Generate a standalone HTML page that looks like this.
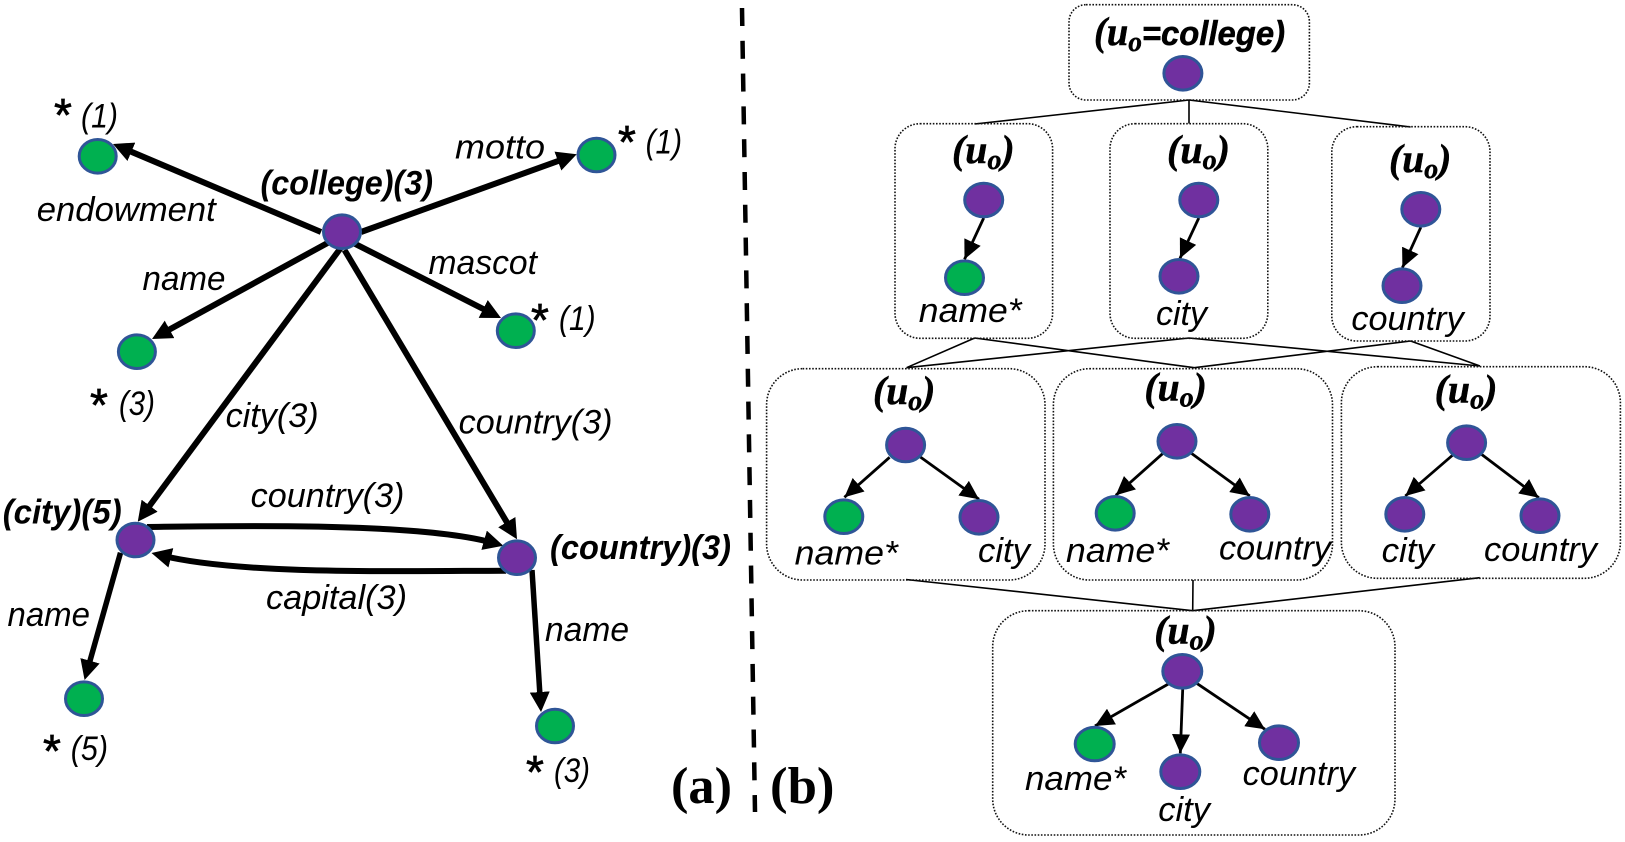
<!DOCTYPE html>
<html>
<head>
<meta charset="utf-8">
<style>
html,body{margin:0;padding:0;background:#fff;}
svg{display:block;}
.t{font:italic 34px "Liberation Sans",sans-serif;fill:#000;transform:translateY(1.8px);}
.b{font:italic bold 34px "Liberation Sans",sans-serif;fill:#000;transform:translateY(1.8px);}
.s{font:normal 46px "Liberation Sans",sans-serif;fill:#000;stroke:#000;stroke-width:.7;}
.u{font:italic bold 40px "Liberation Serif",serif;fill:#000;stroke:#000;stroke-width:.5;}
.l{font:bold 52px "Liberation Serif",serif;fill:#000;}
.box{fill:none;stroke:#111;stroke-width:1.6;stroke-dasharray:1.6 1.6;}
.c{stroke:#000;stroke-width:1.6;fill:none;}
.th{stroke:#000;stroke-width:6;fill:none;marker-end:url(#big);}
.tn{stroke:#000;stroke-width:2.8;fill:none;marker-end:url(#small);}
.p{fill:#7030A0;stroke:#2F5597;stroke-width:3;}
.g{fill:#00B050;stroke:#2F5597;stroke-width:3;}
</style>
</head>
<body>
<svg xmlns="http://www.w3.org/2000/svg" width="1625" height="842" viewBox="0 0 1625 842">
<defs>
<marker id="big" markerUnits="userSpaceOnUse" markerWidth="20" markerHeight="20" refX="10" refY="10" orient="auto"><path d="M0,0 L20,10 L0,20 z" fill="#000"/></marker>
<marker id="small" markerUnits="userSpaceOnUse" markerWidth="19" markerHeight="18" refX="19" refY="9" orient="auto"><path d="M0,0 L19,9 L0,18 z" fill="#000"/></marker>
</defs>

<!-- divider -->
<line x1="742" y1="8" x2="755" y2="812" stroke="#000" stroke-width="4.5" stroke-dasharray="18 14.8"/>

<!-- panel a edges -->
<line class="th" x1="321" y1="232" x2="122.2" y2="147.9"/>
<line class="th" x1="361" y1="232" x2="567.3" y2="157.7"/>
<line class="th" x1="328" y1="242.7" x2="160.8" y2="334.2"/>
<line class="th" x1="354" y1="243.3" x2="492.1" y2="313.5"/>
<line class="th" x1="340.7" y1="248" x2="143.7" y2="513.7"/>
<line class="th" x1="344.5" y1="250" x2="511.9" y2="530.7"/>
<path class="th" d="M147,527 C230,526 420,522 493.7,543"/>
<line x1="493" y1="530" x2="504" y2="542" stroke="#fff" stroke-width="2.5"/>
<path class="th" d="M506,570.7 C400,571 240,575 161.2,555.4"/>
<line class="th" style="stroke-width:5.5" x1="120.5" y1="552.7" x2="87.3" y2="670.4"/>
<line class="th" style="stroke-width:5.5" x1="532" y1="570" x2="540.4" y2="702"/>

<!-- panel a nodes -->
<ellipse class="g" cx="97.7" cy="156.3" rx="18.5" ry="16.8"/>
<ellipse class="g" cx="596.5" cy="155" rx="18.5" ry="16.8"/>
<ellipse class="p" cx="342" cy="231.7" rx="18.5" ry="16.8"/>
<ellipse class="g" cx="136.9" cy="351.7" rx="18.5" ry="16.8"/>
<ellipse class="g" cx="515.8" cy="330.7" rx="18.5" ry="16.8"/>
<ellipse class="p" cx="135.5" cy="540" rx="18.5" ry="16.8"/>
<ellipse class="p" cx="517" cy="557.7" rx="18.5" ry="16.8"/>
<ellipse class="g" cx="84" cy="698.7" rx="18.5" ry="16.8"/>
<ellipse class="g" cx="555" cy="726" rx="18.5" ry="16.8"/>

<!-- panel a labels -->
<text class="s" x="54" y="131">*</text>
<text class="t" x="81" y="125.7" textLength="37" lengthAdjust="spacingAndGlyphs">(1)</text>
<text class="s" x="618" y="158">*</text>
<text class="t" x="645.6" y="151.7" textLength="36.4" lengthAdjust="spacingAndGlyphs">(1)</text>
<text class="s" x="531" y="336">*</text>
<text class="t" x="559" y="328" textLength="36.6" lengthAdjust="spacingAndGlyphs">(1)</text>
<text class="s" x="90" y="421">*</text>
<text class="t" x="119" y="413" textLength="36" lengthAdjust="spacingAndGlyphs">(3)</text>
<text class="s" x="43" y="767">*</text>
<text class="t" x="70.7" y="758" textLength="37.3" lengthAdjust="spacingAndGlyphs">(5)</text>
<text class="s" x="526" y="788">*</text>
<text class="t" x="554" y="780" textLength="36" lengthAdjust="spacingAndGlyphs">(3)</text>

<text class="t" x="36.8" y="219" textLength="179" lengthAdjust="spacingAndGlyphs">endowment</text>
<text class="t" x="455" y="156.7" textLength="90" lengthAdjust="spacingAndGlyphs">motto</text>
<text class="b" x="260.5" y="192.7" textLength="172.5" lengthAdjust="spacingAndGlyphs">(college)(3)</text>
<text class="t" x="142.5" y="288" textLength="83" lengthAdjust="spacingAndGlyphs">name</text>
<text class="t" x="428.5" y="272" textLength="108.5" lengthAdjust="spacingAndGlyphs">mascot</text>
<text class="t" x="225.6" y="425" textLength="93" lengthAdjust="spacingAndGlyphs">city(3)</text>
<text class="t" x="458.7" y="431.7" textLength="153.8" lengthAdjust="spacingAndGlyphs">country(3)</text>
<text class="b" x="2.7" y="521.7" textLength="119" lengthAdjust="spacingAndGlyphs">(city)(5)</text>
<text class="t" x="250.7" y="505" textLength="153.7" lengthAdjust="spacingAndGlyphs">country(3)</text>
<text class="b" x="550" y="557" textLength="181" lengthAdjust="spacingAndGlyphs">(country)(3)</text>
<text class="t" x="266" y="607" textLength="141" lengthAdjust="spacingAndGlyphs">capital(3)</text>
<text class="t" x="7.5" y="624" textLength="82.5" lengthAdjust="spacingAndGlyphs">name</text>
<text class="t" x="545" y="639" textLength="84" lengthAdjust="spacingAndGlyphs">name</text>
<text class="l" x="671" y="803" textLength="61" lengthAdjust="spacingAndGlyphs">(a)</text>
<text class="l" x="770" y="803" textLength="64.5" lengthAdjust="spacingAndGlyphs">(b)</text>

<!-- lattice connectors -->
<path class="c" d="M1189,100 L974.7,124 M1189,100 L1189,123.5 M1189,100 L1410.6,127"/>
<path class="c" d="M974.7,338 L906.5,367.7 M974.7,338 L1194.3,367.7 M1189,338 L906.5,367.7 M1189,338 L1480,366 M1410.6,341 L1194.3,367.7 M1410.6,341 L1480,366"/>
<path class="c" d="M906,579.5 L1192.7,610.7 M1193,580 L1192.7,610.7 M1479.8,577.7 L1192.7,610.7"/>

<!-- boxes -->
<rect class="box" x="1069" y="4.7" width="240.4" height="95.3" rx="17" ry="17"/>
<rect class="box" x="895" y="123.7" width="157.6" height="214.6" rx="25" ry="25"/>
<rect class="box" x="1110" y="123.7" width="157.8" height="214.6" rx="25" ry="25"/>
<rect class="box" x="1331.8" y="126.7" width="158.2" height="214.3" rx="25" ry="25"/>
<rect class="box" x="766.6" y="368.7" width="278.4" height="211.3" rx="36" ry="36"/>
<rect class="box" x="1053.4" y="368.7" width="279.1" height="211.3" rx="36" ry="36"/>
<rect class="box" x="1341.4" y="366.7" width="279" height="211.6" rx="36" ry="36"/>
<rect class="box" x="992.7" y="610.7" width="402.3" height="224.3" rx="36" ry="36"/>

<!-- lattice arrows -->
<line class="tn" x1="983.7" y1="218" x2="964.5" y2="259.3"/>
<line class="tn" x1="1198.8" y1="218" x2="1180" y2="258.3"/>
<line class="tn" x1="1420.8" y1="227.3" x2="1402.4" y2="267.7"/>
<line class="tn" x1="889.6" y1="457.3" x2="844.4" y2="497.3"/>
<line class="tn" x1="920" y1="456.7" x2="979" y2="499.3"/>
<line class="tn" x1="1163" y1="453.3" x2="1115.8" y2="495.3"/>
<line class="tn" x1="1191.3" y1="453.3" x2="1249.8" y2="496"/>
<line class="tn" x1="1452.8" y1="455" x2="1405.3" y2="496"/>
<line class="tn" x1="1481.4" y1="454.3" x2="1538.8" y2="497.7"/>
<line class="tn" x1="1168.3" y1="684" x2="1095" y2="726"/>
<line class="tn" x1="1182.7" y1="689.3" x2="1180.3" y2="753.3"/>
<line class="tn" x1="1196.7" y1="683.3" x2="1265" y2="729.3"/>

<!-- lattice nodes -->
<ellipse class="p" cx="1182.9" cy="73.3" rx="19" ry="16.8"/>
<ellipse class="p" cx="983.7" cy="200" rx="19" ry="16.8"/>
<ellipse class="g" cx="964.5" cy="277.7" rx="19" ry="16.8"/>
<ellipse class="p" cx="1198.8" cy="200" rx="19" ry="16.8"/>
<ellipse class="p" cx="1179" cy="276.3" rx="19" ry="16.8"/>
<ellipse class="p" cx="1420.8" cy="209.3" rx="19" ry="16.8"/>
<ellipse class="p" cx="1402" cy="285.7" rx="19" ry="16.8"/>
<ellipse class="p" cx="905.6" cy="445" rx="19" ry="16.8"/>
<ellipse class="g" cx="843.8" cy="516.7" rx="19" ry="16.8"/>
<ellipse class="p" cx="979" cy="517.3" rx="19" ry="16.8"/>
<ellipse class="p" cx="1177" cy="441.3" rx="19" ry="16.8"/>
<ellipse class="g" cx="1115.2" cy="513.3" rx="19" ry="16.8"/>
<ellipse class="p" cx="1249.8" cy="514.3" rx="19" ry="16.8"/>
<ellipse class="p" cx="1466.6" cy="442.7" rx="19" ry="16.8"/>
<ellipse class="p" cx="1404.8" cy="514.3" rx="19" ry="16.8"/>
<ellipse class="p" cx="1540" cy="515.7" rx="19" ry="16.8"/>
<ellipse class="p" cx="1182.3" cy="671.3" rx="19.5" ry="16.8"/>
<ellipse class="g" cx="1094.7" cy="744" rx="19.5" ry="16.8"/>
<ellipse class="p" cx="1180.3" cy="771.7" rx="19.5" ry="16.8"/>
<ellipse class="p" cx="1279" cy="742.7" rx="19.5" ry="16.8"/>

<!-- lattice labels -->
<text class="u" x="1094" y="45" textLength="191" lengthAdjust="spacingAndGlyphs">(u<tspan dy="6" font-size="28">o</tspan><tspan dy="-6" style="font-family:'Liberation Sans',sans-serif;font-size:34px">=college)</tspan></text>
<text class="u" x="952" y="163" textLength="62.7" lengthAdjust="spacingAndGlyphs">(u<tspan dy="6" font-size="28">o</tspan><tspan dy="-6">)</tspan></text>
<text class="u" x="1167" y="163" textLength="63" lengthAdjust="spacingAndGlyphs">(u<tspan dy="6" font-size="28">o</tspan><tspan dy="-6">)</tspan></text>
<text class="u" x="1389" y="172" textLength="62.4" lengthAdjust="spacingAndGlyphs">(u<tspan dy="6" font-size="28">o</tspan><tspan dy="-6">)</tspan></text>
<text class="u" x="873" y="404" textLength="62.4" lengthAdjust="spacingAndGlyphs">(u<tspan dy="6" font-size="28">o</tspan><tspan dy="-6">)</tspan></text>
<text class="u" x="1144.4" y="400.7" textLength="62.4" lengthAdjust="spacingAndGlyphs">(u<tspan dy="6" font-size="28">o</tspan><tspan dy="-6">)</tspan></text>
<text class="u" x="1434.6" y="402.3" textLength="62.8" lengthAdjust="spacingAndGlyphs">(u<tspan dy="6" font-size="28">o</tspan><tspan dy="-6">)</tspan></text>
<text class="u" x="1154.3" y="643.3" textLength="62.4" lengthAdjust="spacingAndGlyphs">(u<tspan dy="6" font-size="28">o</tspan><tspan dy="-6">)</tspan></text>

<text class="t" x="918.8" y="320" textLength="102.8" lengthAdjust="spacingAndGlyphs">name*</text>
<text class="t" x="1156" y="323" textLength="51" lengthAdjust="spacingAndGlyphs">city</text>
<text class="t" x="1351.4" y="328" textLength="112.3" lengthAdjust="spacingAndGlyphs">country</text>
<text class="t" x="794.7" y="562.7" textLength="103.2" lengthAdjust="spacingAndGlyphs">name*</text>
<text class="t" x="978" y="560" textLength="52" lengthAdjust="spacingAndGlyphs">city</text>
<text class="t" x="1066" y="560" textLength="103" lengthAdjust="spacingAndGlyphs">name*</text>
<text class="t" x="1219" y="557.7" textLength="112" lengthAdjust="spacingAndGlyphs">country</text>
<text class="t" x="1381.6" y="560" textLength="52.4" lengthAdjust="spacingAndGlyphs">city</text>
<text class="t" x="1484" y="559" textLength="113" lengthAdjust="spacingAndGlyphs">country</text>
<text class="t" x="1025" y="788" textLength="101" lengthAdjust="spacingAndGlyphs">name*</text>
<text class="t" x="1158.3" y="819" textLength="51.7" lengthAdjust="spacingAndGlyphs">city</text>
<text class="t" x="1242.7" y="783" textLength="112.3" lengthAdjust="spacingAndGlyphs">country</text>
</svg>
</body>
</html>
